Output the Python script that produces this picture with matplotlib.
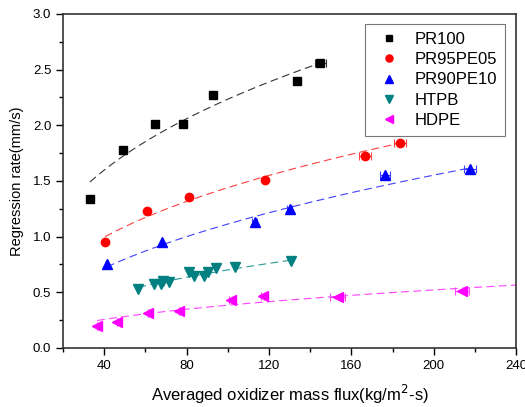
import numpy as np
import matplotlib
matplotlib.use("Agg")
import matplotlib.pyplot as plt
from matplotlib.ticker import MultipleLocator, FormatStrFormatter

plt.rcParams["font.family"] = ["Liberation Sans", "DejaVu Sans"]

# measured data (oxidizer mass flux, regression rate)
pr100_x = [33.1, 49.2, 64.8, 78.4, 93.0, 133.4, 145.0]
pr100_y = [1.34, 1.78, 2.01, 2.01, 2.27, 2.40, 2.56]
pr100_xerr = [0, 0, 0, 0, 0, 1.0, 2.5]

pr95_x = [40.4, 60.9, 81.3, 118.3, 166.5, 183.5]
pr95_y = [0.95, 1.23, 1.36, 1.51, 1.72, 1.84]
pr95_xerr = [0, 0, 0, 0, 3.0, 3.0]

pr90_x = [41.4, 68.2, 113.0, 130.0, 176.2, 217.6]
pr90_y = [0.75, 0.95, 1.13, 1.25, 1.55, 1.61]
pr90_xerr = [0, 0, 1.0, 1.0, 2.5, 3.0]

htpb_x = [56.6, 64.3, 67.5, 68.7, 71.6, 81.3, 83.7, 88.6, 90.2, 94.3, 103.7, 130.8]
htpb_y = [0.53, 0.57, 0.57, 0.60, 0.59, 0.68, 0.65, 0.65, 0.68, 0.72, 0.73, 0.78]

hdpe_x = [36.5, 46.3, 61.4, 76.4, 101.7, 117.3, 153.3, 213.7]
hdpe_y = [0.20, 0.23, 0.31, 0.33, 0.43, 0.47, 0.46, 0.51]
hdpe_xerr = [0, 0, 0, 0, 1.0, 1.0, 3.5, 3.5]

# power-law fits y = a * G^n
fit_a = [0.414, 0.225, 0.122, 0.0911, 0.0504]
fit_n = [0.366, 0.403, 0.480, 0.443, 0.441]
fit_range = [(33.1, 145.0), (40.4, 183.5), (41.4, 217.6), (56.6, 130.8), (36.5, 240)]

series = [
    ("PR100", pr100_x, pr100_y, pr100_xerr, "s", 5.5, "black", "#333333"),
    ("PR95PE05", pr95_x, pr95_y, pr95_xerr, "o", 6, "red", "#ff4040"),
    ("PR90PE10", pr90_x, pr90_y, pr90_xerr, "^", 6.5, "blue", "#4040ff"),
    ("HTPB", htpb_x, htpb_y, None, "v", 6.5, "#008080", "#2a9a9a"),
    ("HDPE", hdpe_x, hdpe_y, hdpe_xerr, "<", 6.5, "magenta", "#ff40ff"),
]

fig = plt.figure(figsize=(5.25, 4.07), dpi=100)
ax = fig.add_axes([0.12, 0.145, 0.863, 0.821])

for i, (name, x, y, xerr, m, ms, c, ec) in enumerate(series):
    x0, x1 = fit_range[i]
    xf = np.linspace(x0, x1, 200)
    ax.plot(xf, fit_a[i] * xf ** fit_n[i], ls=(0, (7, 4)), lw=0.8, color=ec, zorder=1)
    if xerr is not None:
        ax.errorbar(x, y, xerr=xerr, fmt="none", ecolor=ec, elinewidth=0.8,
                    capsize=3, capthick=0.8, zorder=2)
    ax.plot(x, y, ls="none", marker=m, color=c, markersize=ms, label=name, zorder=3)

ax.set_xlim(20, 240)
ax.set_ylim(0, 3.0)
ax.xaxis.set_major_locator(MultipleLocator(40))
ax.xaxis.set_minor_locator(MultipleLocator(20))
ax.yaxis.set_major_locator(MultipleLocator(0.5))
ax.yaxis.set_minor_locator(MultipleLocator(0.25))
ax.yaxis.set_major_formatter(FormatStrFormatter("%.1f"))
ax.tick_params(which="both", direction="out", top=False, right=False, labelsize=9.5, width=1)
ax.tick_params(which="major", length=5)
ax.tick_params(which="minor", length=3)
for s in ax.spines.values():
    s.set_linewidth(1.2)
    s.set_color("#333333")

ax.set_xlabel("Averaged oxidizer mass flux(kg/m$^2$-s)", fontsize=12, labelpad=8)
ax.set_ylabel("Regression rate(mm/s)", fontsize=10.5, labelpad=6)

leg = ax.legend(loc="upper right", fontsize=12, fancybox=False, edgecolor="#555555",
                handletextpad=0.55, borderpad=0.45, labelspacing=0.32, handlelength=2.0,
                markerscale=0.85, bbox_to_anchor=(0.994, 0.994))
leg.get_frame().set_linewidth(0.8)

fig.savefig("out.png", dpi=100)
